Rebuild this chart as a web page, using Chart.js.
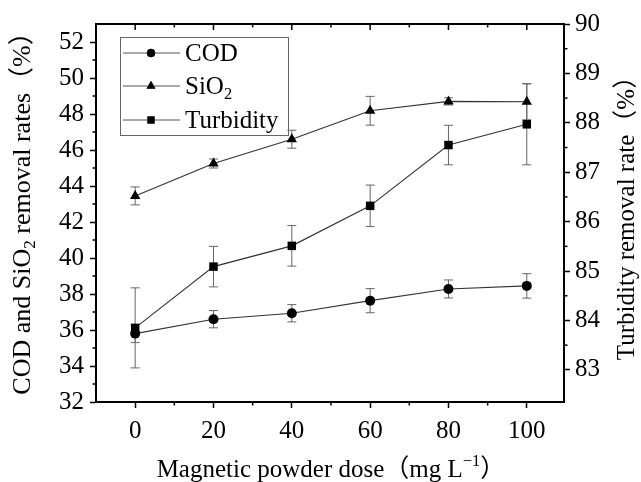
<!DOCTYPE html>
<html>
<head>
<meta charset="utf-8">
<script src="https://cdn.jsdelivr.net/npm/chart.js@4.4.1/dist/chart.umd.min.js"></script>
<style>
html,body{margin:0;padding:0;background:#fff;}
#wrap{width:641px;height:482px;position:relative;}
</style>
</head>
<body>
<div id="wrap"><canvas id="c"></canvas></div>
<script>
// ---- data ----
const doses = [0, 20, 40, 60, 80, 100];
const codValues = [35.8, 36.6, 36.93, 37.63, 38.28, 38.45];
const codErrors = [0.5, 0.48, 0.48, 0.67, 0.5, 0.68];
const sio2Values = [43.45, 45.25, 46.6, 48.18, 48.7, 48.68];
const sio2Errors = [0.5, 0.25, 0.5, 0.8, 0.2, 1.0];
const turbValues = [83.85, 85.09, 85.51, 86.32, 87.55, 87.97];
const turbErrors = [0.81, 0.41, 0.41, 0.42, 0.4, 0.82];

const xTicks = [0, 20, 40, 60, 80, 100];
const xMinorTicks = [10, 30, 50, 70, 90];
const leftTicks = [32, 34, 36, 38, 40, 42, 44, 46, 48, 50, 52];
const leftMinorTicks = [33, 35, 37, 39, 41, 43, 45, 47, 49, 51];
const rightTicks = [83, 84, 85, 86, 87, 88, 89, 90];
const rightMinorTicks = [83.5, 84.5, 85.5, 86.5, 87.5, 88.5, 89.5];

const seriesNames = ['COD', 'SiO2', 'Turbidity'];
const xTitle = [['Magnetic powder dose（mg L', 0], ['−1', 1], ['）', 0]];
const leftTitle = [['COD and SiO', 0], ['2', -1], [' removal rates（%）', 0]];
const rightTitle = [['Turbidity removal rate（%）', 0]];
const legendLabels = [[['COD', 0]], [['SiO', 0], ['2', -1]], [['Turbidity', 0]]];

const FONT = '"Liberation Serif", "Times New Roman", "Noto Sans CJK SC", serif';

function pts(vals) { return doses.map((d, i) => ({x: d, y: vals[i]})); }

function drawRuns(ctx, runs, size, x, y, rot) {
  ctx.save();
  ctx.translate(x, y);
  ctx.rotate(rot || 0);
  ctx.textBaseline = 'middle';
  ctx.textAlign = 'left';
  let w = 0;
  const parts = runs.map(([t, s]) => {
    const fs = s === 0 ? size : size * 0.66;
    ctx.font = fs + 'px ' + FONT;
    const m = ctx.measureText(t).width;
    w += m;
    return {t, s, fs, m};
  });
  let cx = -w / 2;
  parts.forEach(p => {
    ctx.font = p.fs + 'px ' + FONT;
    const dy = p.s === 0 ? 0 : (p.s > 0 ? -size * 0.33 : size * 0.3);
    ctx.fillText(p.t, cx, dy);
    cx += p.m;
  });
  ctx.restore();
  return w;
}

function drawRunsLeft(ctx, runs, size, x, y) {
  ctx.save();
  ctx.textBaseline = 'middle';
  ctx.textAlign = 'left';
  let cx = x;
  runs.forEach(([t, s]) => {
    const fs = s === 0 ? size : size * 0.66;
    ctx.font = fs + 'px ' + FONT;
    const dy = s === 0 ? 0 : (s > 0 ? -size * 0.33 : size * 0.3);
    ctx.fillText(t, cx, y + dy);
    cx += ctx.measureText(t).width;
  });
  ctx.restore();
}

function line(ctx, x1, y1, x2, y2) {
  ctx.beginPath(); ctx.moveTo(x1, y1); ctx.lineTo(x2, y2); ctx.stroke();
}

const errorSets = [codErrors, sio2Errors, turbErrors];

const framePlugin = {
  id: 'frame',
  beforeDatasetsDraw(chart) {
    const ctx = chart.ctx;
    const xs = chart.scales.x;
    ctx.save();
    ctx.strokeStyle = '#666';
    ctx.lineWidth = 1;
    chart.data.datasets.forEach((ds, k) => {
      const ys = chart.scales[ds.yAxisID];
      const vals = ds.data;
      const errs = errorSets[k];
      vals.forEach((p, i) => {
        const px = xs.getPixelForValue(p.x);
        const t = ys.getPixelForValue(p.y + errs[i]);
        const b = ys.getPixelForValue(p.y - errs[i]);
        line(ctx, px, t, px, b);
        line(ctx, px - 4.5, t, px + 4.5, t);
        line(ctx, px - 4.5, b, px + 4.5, b);
      });
    });
    ctx.restore();
  },
  afterDraw(chart) {
    const ctx = chart.ctx;
    const a = chart.chartArea;
    const xs = chart.scales.x, yl = chart.scales.y, yr = chart.scales.y2;
    ctx.save();
    ctx.strokeStyle = '#000';
    // top frame line
    ctx.lineWidth = 2;
    line(ctx, a.left - 1, a.top, a.right + 1, a.top);
    // minor & top ticks
    ctx.lineWidth = 1.5;
    xMinorTicks.forEach(v => { const p = xs.getPixelForValue(v); line(ctx, p, a.bottom, p, a.bottom + 3.5); line(ctx, p, a.top, p, a.top + 3.5); });
    xTicks.forEach(v => { const p = xs.getPixelForValue(v); line(ctx, p, a.top, p, a.top + 6); });
    leftMinorTicks.forEach(v => { const p = yl.getPixelForValue(v); line(ctx, a.left, p, a.left - 3.5, p); });
    rightMinorTicks.forEach(v => { const p = yr.getPixelForValue(v); line(ctx, a.right, p, a.right + 3.5, p); });
    // legend
    ctx.strokeStyle = '#666';
    ctx.lineWidth = 1;
    ctx.strokeRect(120.5, 37.5, 168, 98);
    const rows = [53, 86, 120];
    chart.data.datasets.forEach((ds, k) => {
      ctx.strokeStyle = '#555';
      ctx.lineWidth = 1;
      line(ctx, 123, rows[k], 180, rows[k]);
      Chart.helpers.drawPoint(ctx, {pointStyle: ds.pointStyle, radius: ds.pointRadius * 0.8, rotation: 0, borderWidth: 1}, 151, rows[k]);
      ctx.fillStyle = '#000';
      ctx.fill();
      drawRunsLeft(ctx, legendLabels[k], 25, 185, rows[k] + 1);
    });
    // axis titles
    ctx.fillStyle = '#000';
    drawRuns(ctx, xTitle, 25, 331, 470, 0);
    drawRuns(ctx, leftTitle, 26, 23, 207, -Math.PI / 2);
    drawRuns(ctx, rightTitle, 25, 627, 212, -Math.PI / 2);
    ctx.restore();
  }
};

const tickFont = {family: FONT, size: 25};
const grid = {display: true, drawOnChartArea: false, drawTicks: true, tickLength: 6, tickWidth: 1.5, tickColor: '#000'};
const border = {display: true, color: '#000', width: 2};

new Chart(document.getElementById('c'), {
  type: 'line',
  data: {
    datasets: [
      {label: seriesNames[0], data: pts(codValues), yAxisID: 'y', pointStyle: 'circle', pointRadius: 5},
      {label: seriesNames[1], data: pts(sio2Values), yAxisID: 'y', pointStyle: 'triangle', pointRadius: 6},
      {label: seriesNames[2], data: pts(turbValues), yAxisID: 'y2', pointStyle: 'rect', pointRadius: 6}
    ].map(d => Object.assign(d, {borderColor: '#333', borderWidth: 1.1, backgroundColor: '#000', pointBackgroundColor: '#000', pointBorderColor: '#000', pointBorderWidth: 0, tension: 0, clip: false}))
  },
  options: {
    responsive: true,
    maintainAspectRatio: false,
    devicePixelRatio: 1,
    animation: false,
    layout: {padding: {top: 24, left: 0, right: 0, bottom: 0}},
    plugins: {legend: {display: false}, tooltip: {enabled: false}},
    scales: {
      x: {
        type: 'linear', position: 'bottom', min: -10, max: 109.5,
        afterBuildTicks: s => { s.ticks = xTicks.map(v => ({value: v})); },
        afterFit: s => { s.height = 80; },
        ticks: {font: tickFont, color: '#000', padding: 8, maxRotation: 0, autoSkip: false},
        grid, border
      },
      y: {
        type: 'linear', position: 'left', min: 32, max: 53,
        afterBuildTicks: s => { s.ticks = leftTicks.map(v => ({value: v})); },
        afterFit: s => { s.width = 96; },
        ticks: {font: tickFont, color: '#000', padding: 6, autoSkip: false},
        grid, border
      },
      y2: {
        type: 'linear', position: 'right', min: 82.35, max: 90,
        afterBuildTicks: s => { s.ticks = rightTicks.map(v => ({value: v})); },
        afterFit: s => { s.width = 77; },
        ticks: {font: tickFont, color: '#000', padding: 5, autoSkip: false},
        grid, border
      }
    }
  },
  plugins: [framePlugin]
});
</script>
</body>
</html>
